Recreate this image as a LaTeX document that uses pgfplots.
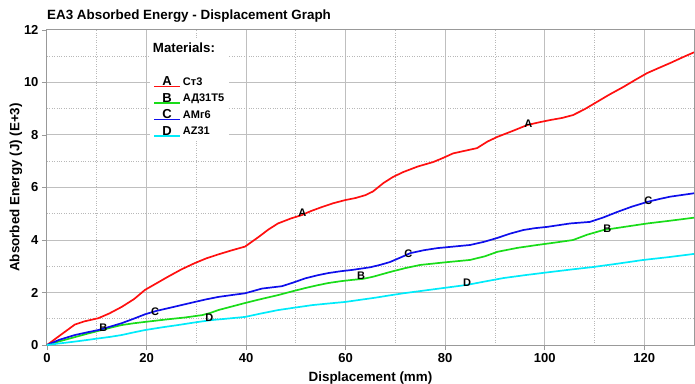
\documentclass[border=0pt]{standalone}
\usepackage{fontspec}
\setmainfont{Liberation Sans}
\usepackage{pgfplots}
\pgfplotsset{compat=1.18}
\definecolor{cA}{RGB}{255,15,15}
\definecolor{cB}{RGB}{25,220,25}
\definecolor{cC}{RGB}{15,15,235}
\definecolor{cD}{RGB}{0,235,250}
\pgfplotsset{letterlegend/.style={legend image code/.code={%
  \draw[##1] (0pt,-4.6pt) -- (26pt,-4.6pt);
  \node[black,inner sep=0pt,anchor=base,font=\bfseries\fontsize{13}{13}\selectfont] at (13pt,-4pt) {#1};}}}
\begin{document}
\begin{tikzpicture}
\useasboundingbox (-47pt,-38pt) rectangle (648pt,345pt);
\begin{axis}[
  scale only axis, width=647pt, height=315pt,
  at={(0pt,0pt)}, anchor=south west,
  xmin=0, xmax=130, ymin=0, ymax=12,
  xtick={0,20,...,120}, ytick={0,2,...,12},
  minor xtick={10,30,...,130}, minor ytick={1,3,...,11},
  grid=both,
  major grid style={black!25, line width=1pt},
  minor grid style={black!28, dotted, line width=0.8pt},
  axis line style={black!40, line width=1pt},
  tick style={black!40, line width=0.8pt},
  tick align=outside, major tick length=5pt, minor tick length=0pt,
  xtick pos=bottom, ytick pos=left,
  ticklabel style={font=\bfseries\fontsize{13}{13}\selectfont},
  /pgf/number format/assume math mode=true,
  xlabel={Displacement (mm)}, ylabel={Absorbed Energy (J) (E+3)},
  label style={font=\bfseries\fontsize{13.4}{13.4}\selectfont},
  xlabel style={at={(axis description cs:0.5,-0.105)}, anchor=center},
  ylabel style={at={(axis description cs:-0.048,0.5)}, anchor=center},
  title={EA3 Absorbed Energy - Displacement Graph},
  title style={at={(rel axis cs:0,1)}, anchor=base west, inner sep=0pt, yshift=4.5pt,
    font=\bfseries\fontsize{13.4}{13.4}\selectfont},
  legend style={at={(axis cs:20.7,11.66)}, anchor=north west, draw=none, fill=white,
    font=\bfseries\fontsize{11}{12}\selectfont, cells={anchor=west}, row sep=3.3pt},
  every axis plot/.append style={line width=1.7pt},
]
\addlegendimage{empty legend}
\addlegendentry{\hspace*{-30pt}\fontsize{13.3}{13.3}\selectfont Materials:}
\addlegendimage{empty legend}
\addlegendentry{\rule{0pt}{7pt}}
\addplot[cA, letterlegend=A] coordinates {
(0,0) (2.5,0.35) (5.6,0.78) (7.5,0.9) (10.3,1.02) (12.5,1.2) (15,1.45) (17.5,1.75) (19.7,2.1) (22,2.35) (24.3,2.6) (27,2.88) (29.7,3.12) (32,3.3) (34.4,3.45) (37,3.6) (39.8,3.75) (42.4,4.1) (44.5,4.4) (46.4,4.63) (49,4.82) (51.2,4.95) (53,5.1) (55.3,5.26) (57.5,5.4) (59.9,5.52) (62,5.6) (64,5.71) (65.5,5.85) (67.6,6.17) (69.5,6.4) (71.6,6.59) (74.5,6.8) (77.6,6.97) (79.5,7.12) (81.6,7.3) (84,7.4) (86.4,7.5) (88.5,7.75) (90.5,7.93) (93.5,8.15) (96.5,8.38) (98.8,8.48) (101.1,8.57) (103.5,8.65) (105.7,8.76) (108,8.98) (110.5,9.26) (113,9.54) (115.8,9.83) (118.2,10.1) (120.6,10.36) (123,10.56) (125.2,10.74) (127.6,10.95) (130,11.15)};
\addlegendentry{Ст3}
\addplot[cB, letterlegend=B] coordinates {
(0,0) (2.5,0.14) (5.6,0.3) (8.3,0.44) (11,0.57) (13,0.67) (15,0.76) (17.5,0.83) (19.7,0.88) (22,0.93) (24.3,0.98) (27.8,1.05) (31.2,1.14) (32.8,1.22) (34.4,1.33) (37,1.46) (39.8,1.6) (43,1.75) (46.4,1.9) (49,2.03) (51.9,2.17) (54.2,2.27) (56.5,2.36) (59,2.43) (61.3,2.48) (63.5,2.52) (65.5,2.6) (68.9,2.78) (72,2.93) (75,3.05) (80,3.15) (85,3.24) (88,3.38) (90.5,3.55) (94.5,3.7) (98.5,3.81) (102,3.9) (105.7,4.0) (108.5,4.2) (111.8,4.38) (116,4.5) (120.6,4.63) (125,4.73) (130,4.85)};
\addlegendentry{АД31Т5}
\addplot[cC, letterlegend=C] coordinates {
(0,0) (2.5,0.2) (5.6,0.38) (8,0.48) (10.3,0.57) (12.7,0.7) (15,0.83) (17.4,1.0) (19.7,1.17) (22,1.3) (24.3,1.4) (27,1.52) (29.7,1.64) (32,1.74) (34.4,1.83) (37,1.9) (39.8,1.97) (43.2,2.15) (47.2,2.24) (49.5,2.38) (51.9,2.54) (54.2,2.65) (56.5,2.74) (59,2.81) (61.3,2.86) (64.9,2.96) (66.9,3.05) (68.9,3.16) (71,3.33) (73,3.5) (75.7,3.61) (78.4,3.69) (81.7,3.75) (85,3.81) (87.8,3.93) (90.5,4.08) (93,4.24) (95.7,4.38) (98,4.45) (100.5,4.5) (105.1,4.63) (109.1,4.69) (111.8,4.86) (114.6,5.07) (117.5,5.27) (120.6,5.45) (123,5.56) (125.2,5.65) (130,5.78)};
\addlegendentry{АМг6}
\addplot[cD, letterlegend=D] coordinates {
(0,0) (2.5,0.06) (5.6,0.13) (8,0.19) (10.3,0.25) (12.7,0.31) (15,0.38) (17.4,0.48) (19.7,0.57) (23,0.67) (26.3,0.76) (29.7,0.86) (33.1,0.95) (36.5,1.01) (39.8,1.07) (43,1.2) (46.4,1.33) (50,1.43) (53.3,1.52) (56.5,1.58) (59.9,1.64) (62.5,1.71) (65.9,1.8) (68.5,1.88) (71.6,1.97) (78,2.13) (84.4,2.29) (88,2.42) (91.7,2.55) (96.4,2.67) (101.1,2.78) (105.5,2.88) (109.7,2.97) (114.7,3.1) (119.8,3.24) (125,3.35) (130,3.47)};
\addlegendentry{AZ31}
\begin{scope}[every node/.style={font=\bfseries\fontsize{11}{11}\selectfont, inner sep=0pt}]
\node at (axis cs:51.3,5.03) {A};
\node at (axis cs:96.7,8.42) {A};
\node at (axis cs:11.3,0.65) {B};
\node at (axis cs:63.1,2.63) {B};
\node at (axis cs:112.6,4.42) {B};
\node at (axis cs:21.7,1.26) {C};
\node at (axis cs:72.6,3.47) {C};
\node at (axis cs:120.8,5.49) {C};
\node at (axis cs:32.6,1.03) {D};
\node at (axis cs:84.4,2.36) {D};
\end{scope}
\end{axis}
\end{tikzpicture}
\end{document}
